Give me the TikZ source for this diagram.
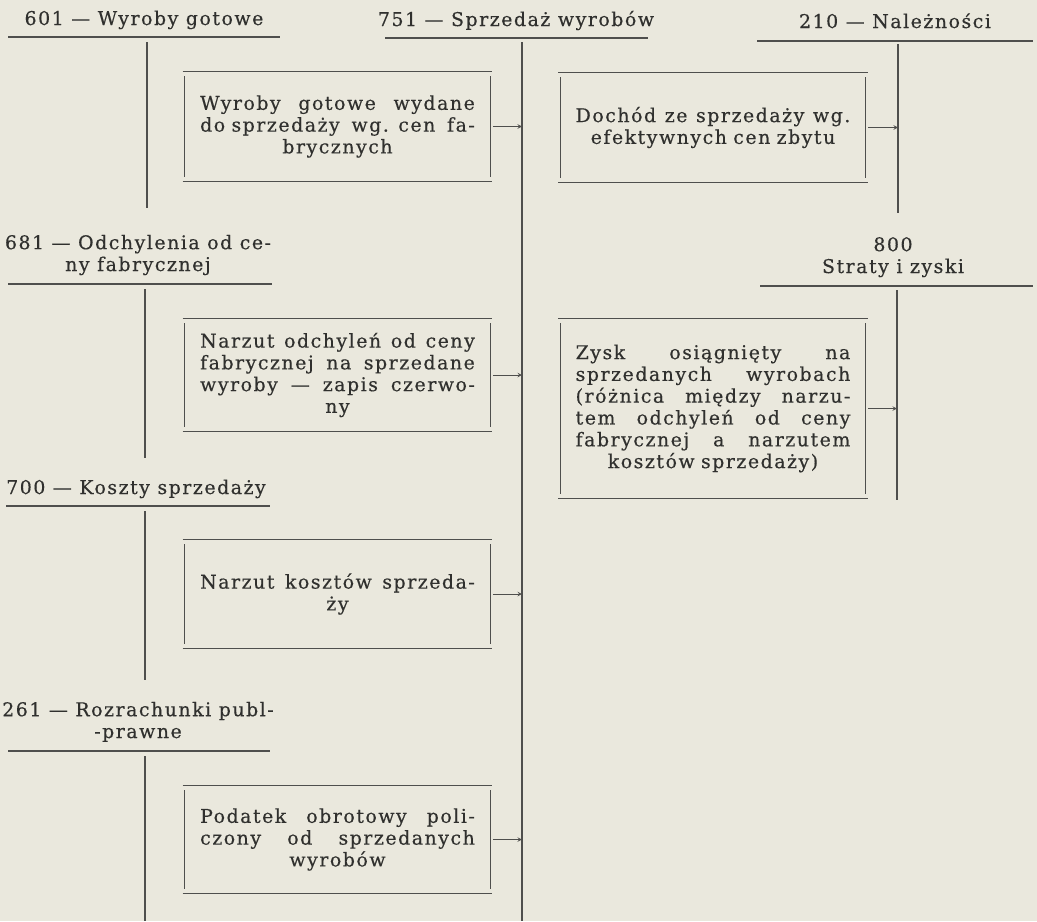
\documentclass[tikz,border=0pt]{standalone}
\usepackage{fontspec}
\setmainfont{DejaVu Serif}[LetterSpace=8, FakeBold=0.4]
\usetikzlibrary{positioning, arrows}
\definecolor{paper}{RGB}{234,232,221}
\definecolor{ink}{RGB}{48,48,46}
\newcommand{\jl}[1]{\makebox[\linewidth]{#1}\\}
\newcommand{\ramka}[1]{%
  \draw[linia] ([xshift=-1.5pt]#1.north west) -- ([xshift=1.5pt]#1.north east)
               ([xshift=-1.5pt]#1.south west) -- ([xshift=1.5pt]#1.south east)
               ([yshift=-3.5pt]#1.north west) -- ([yshift=3.5pt]#1.south west)
               ([yshift=-3.5pt]#1.north east) -- ([yshift=3.5pt]#1.south east);}
\tikzset{
  >=stealth,
  every node/.style={text=ink, font=\fontsize{14.2}{16.35}\selectfont},
  konto/.style={align=center, inner sep=0pt, anchor=base},
  zapis/.style={text width=206pt, align=center, inner sep=0pt, minimum width=228.75pt},
  linia/.style={draw=ink!85, line width=0.9pt},
  strzalka/.style={->, draw=ink!85, line width=0.5pt, shorten <=2pt},
}
\begin{document}
\begin{tikzpicture}[x=0.75pt, y=-0.75pt]
  \fill[paper] (0,0) rectangle (1037,921);
  \useasboundingbox (0,0) rectangle (1037,921);

  % konta
  \node[konto] (k601) at (144,25)  {601 — Wyroby gotowe};
  \node[konto] (k751) at (516,26)  {751 — Sprzedaż wyrobów};
  \node[konto] (k210) at (895,28)  {210 — Należności};
  \node[konto] (k681) at (138,271) {681 — Odchylenia od ce-\\ny fabrycznej};
  \node[konto] (k800) at (893,273) {800\\Straty i zyski};
  \node[konto] (k700) at (136,494) {700 — Koszty sprzedaży};
  \node[konto] (k261) at (138,738) {261 — Rozrachunki publ-\\-prawne};

  \coordinate (k601v) at (147,42);  \coordinate (k601d) at (147,208);
  \coordinate (k751v) at (522,42);  \coordinate (k751d) at (522,921);
  \coordinate (k210v) at (898,44);  \coordinate (k210d) at (898,213);
  \coordinate (k681v) at (145,289); \coordinate (k681d) at (145,458);
  \coordinate (k800v) at (897,290); \coordinate (k800d) at (897,500);
  \coordinate (k700v) at (145,511); \coordinate (k700d) at (145,680);
  \coordinate (k261v) at (145,756); \coordinate (k261d) at (145,921);

  \draw[linia] (8,37) -- (280,37)     (k601v) -- (k601d);
  \draw[linia] (385,38) -- (648,38)   (k751v) -- (k751d);
  \draw[linia] (757,41) -- (1033,41)  (k210v) -- (k210d);
  \draw[linia] (8,284) -- (272,284)   (k681v) -- (k681d);
  \draw[linia] (760,286) -- (1033,286) (k800v) -- (k800d);
  \draw[linia] (6,506) -- (270,506)   (k700v) -- (k700d);
  \draw[linia] (8,751) -- (270,751)   (k261v) -- (k261d);

  % zapisy
  \node[zapis, minimum height=81.75pt] (b1) at (337.5,126.5)
    {\jl{Wyroby \hfill gotowe \hfill wydane}\jl{do sprzedaży \hfill wg. cen \hfill fa-}brycznych};
  \node[zapis, minimum height=81.75pt] (b2) at (713,127.5)
    {\jl{Dochód \hfill ze \hfill sprzedaży \hfill wg.}efektywnych cen zbytu};
  \node[zapis, minimum height=84pt] (b3) at (337.5,375)
    {\jl{Narzut \hfill odchyleń \hfill od \hfill ceny}\jl{fabrycznej \hfill na \hfill sprzedane}\jl{wyroby \hfill — \hfill zapis \hfill czerwo-}ny};
  \node[zapis, minimum height=134.25pt] (b6) at (713,408.5)
    {\jl{Zysk \hfill osiągnięty \hfill na}\jl{sprzedanych \hfill wyrobach}\jl{(różnica \hfill między \hfill narzu-}\jl{tem \hfill odchyleń \hfill od \hfill ceny}\jl{fabrycznej \hfill a \hfill narzutem}kosztów sprzedaży)};
  \node[zapis, minimum height=81pt] (b4) at (337.5,594)
    {\jl{Narzut \hfill kosztów \hfill sprzeda-}ży};
  \node[zapis, minimum height=80.25pt] (b5) at (337.5,839.5)
    {\jl{Podatek \hfill obrotowy \hfill poli-}\jl{czony \hfill od \hfill sprzedanych}wyrobów};

  \ramka{b1} \ramka{b2} \ramka{b3} \ramka{b4} \ramka{b5} \ramka{b6}

  \draw[strzalka] (b1.east) -- (b1.east -| k751v);
  \draw[strzalka] (b2.east) -- (b2.east -| k210v);
  \draw[strzalka] (b3.east) -- (b3.east -| k751v);
  \draw[strzalka] (b4.east) -- (b4.east -| k751v);
  \draw[strzalka] (b5.east) -- (b5.east -| k751v);
  \draw[strzalka] (b6.east) -- (b6.east -| k800v);
\end{tikzpicture}
\end{document}
